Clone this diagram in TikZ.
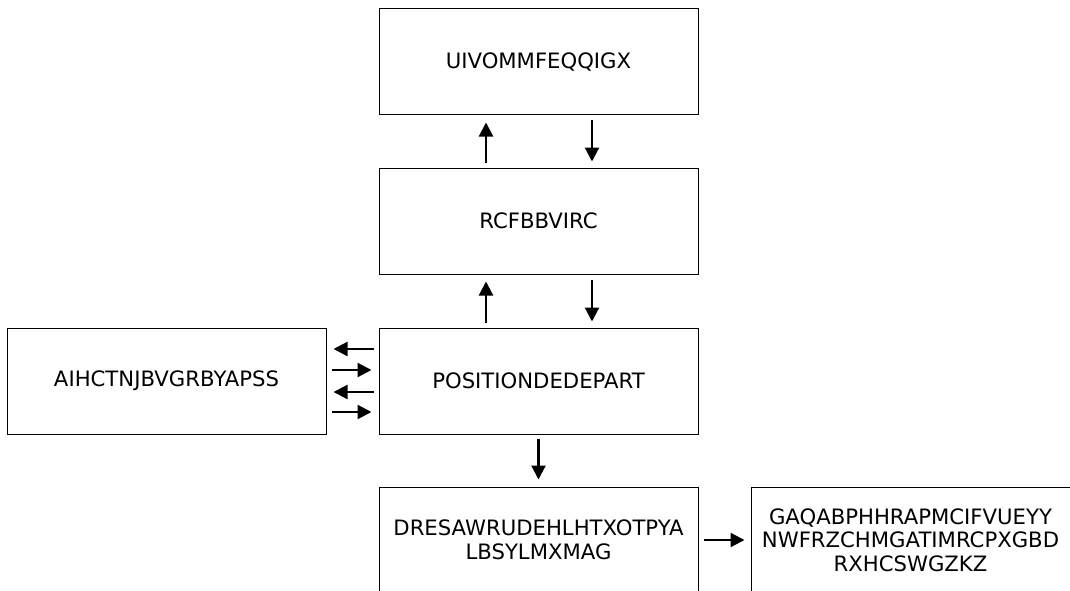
\documentclass[tikz,border=0pt]{standalone}
\usepackage{fontspec}
\setmainfont{DejaVu Sans}
\usetikzlibrary{arrows.meta}
\tikzset{
  box/.style={draw=black, line width=1pt, rectangle, minimum width=319pt, minimum height=106pt, inner sep=0pt, align=center, font=\fontsize{21.2}{23.5}\selectfont},
  arr/.style={line width=2.2pt, -{Triangle[length=14pt,width=14pt]}}
}
\begin{document}
\begin{tikzpicture}[x=1pt,y=-1pt]
\useasboundingbox (0,0) rectangle (1070,591);
\node[box] (A) at (538.5,62) {UIVOMMFEQQIGX};
\node[box] (B) at (538.5,221) {RCFBBVIRC};
\node[box] (C) at (538.5,381) {POSITIONDEDEPART};
\node[box] (L) at (166.5,381) {AIHCTNJBVGRBYAPSS};
\node[box] (D) at (538.5,540) {DRESAWRUDEHLHTXOTPYA\\LBSYLMXMAG};
\node[box] (F) at (910.5,540) {GAQABPHHRAPMCIFVUEYY\\NWFRZCHMGATIMRCPXGBD\\RXHCSWGZKZ};
% A <-> B
\draw[arr] ([xshift=-52.5pt,yshift=5pt]B.north) -- ([xshift=-52.5pt,yshift=-7pt]A.south);
\draw[arr] ([xshift=53.5pt,yshift=-5pt]A.south) -- ([xshift=53.5pt,yshift=6pt]B.north);
% B <-> C
\draw[arr] ([xshift=-52.5pt,yshift=5pt]C.north) -- ([xshift=-52.5pt,yshift=-7pt]B.south);
\draw[arr] ([xshift=53.5pt,yshift=-5pt]B.south) -- ([xshift=53.5pt,yshift=6pt]C.north);
% L <-> C
\draw[arr] ([xshift=-5pt,yshift=32pt]C.west) -- ([xshift=7pt,yshift=32pt]L.east);
\draw[arr] ([xshift=5pt,yshift=11pt]L.east) -- ([xshift=-7pt,yshift=11pt]C.west);
\draw[arr] ([xshift=-5pt,yshift=-11pt]C.west) -- ([xshift=7pt,yshift=-11pt]L.east);
\draw[arr] ([xshift=5pt,yshift=-31pt]L.east) -- ([xshift=-7pt,yshift=-31pt]C.west);
% C -> D
\draw[arr] ([yshift=-4pt]C.south) -- ([yshift=7pt]D.north);
% D -> F
\draw[arr] ([xshift=5pt]D.east) -- ([xshift=-6pt]F.west);
\end{tikzpicture}
\end{document}
